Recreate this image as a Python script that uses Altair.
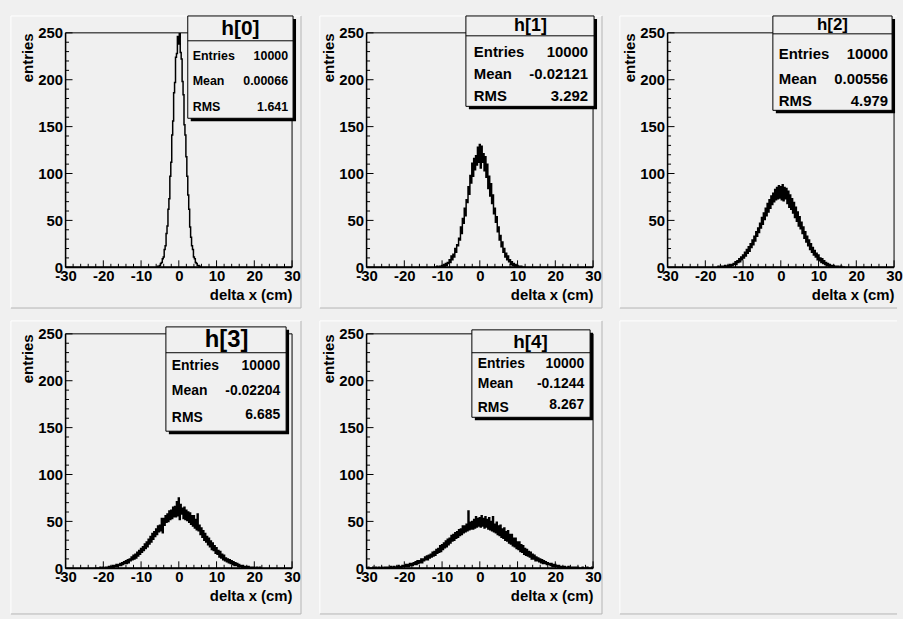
import altair as alt
import pandas as pd

FONT = "Liberation Sans"
BG = "#f0f0f0"
CANVAS_W, CANVAS_H = 903, 619

# ---------------------------------------------------------------- data
BIN_WIDTH = 0.25
X_RANGE = [-30, 30]
Y_RANGE = [0, 250]
X_MAJOR = [-30, -20, -10, 0, 10, 20, 30]
Y_MAJOR = [0, 50, 100, 150, 200, 250]

NAMES = ["h[0]", "h[1]", "h[2]", "h[3]", "h[4]"]
ENTRIES = ["10000", "10000", "10000", "10000", "10000"]
MEANS = ["0.00066", "-0.02121", "0.00556", "-0.02204", "-0.1244"]
RMS = ["1.641", "3.292", "4.979", "6.685", "8.267"]

# first bin centre of every histogram, followed by the bin contents
H_STARTS = [-6.0, -12.0, -17.0, -22.0, -30.0]

H0 = [0, 0, 1, 1, 2, 4, 5, 9, 11, 19, 23, 36, 44, 62, 73, 97, 112, 141, 156, 186,
      197, 224, 228, 246, 238, 249, 229, 222, 198, 184, 152, 141, 118, 97, 77, 62,
      43, 32, 23, 19, 11, 9, 5, 4, 2, 2, 1, 0, 0]

H1 = [0, 0, 0, 1, 0, 0, 1, 0, 2, 1, 3, 0, 4, 2, 5, 4, 8, 5, 12, 8,
      14, 11, 20, 16, 24, 23, 31, 29, 43, 36, 52, 47, 63, 55, 72, 69, 86, 78, 98, 90,
      111, 97, 116, 104, 119, 109, 128, 112, 131, 106, 129, 112, 121, 103, 118,
      96, 110, 84, 97, 76, 89, 68, 77, 57, 63, 48, 54, 38, 43, 29,
      34, 22, 27, 16, 20, 11, 15, 8, 12, 6, 8, 3, 6, 2, 4, 1, 3, 1, 2, 0,
      1, 0, 1, 0, 0, 0, 0]

H2 = [0, 0, 1, 0, 0, 1, 0, 1, 0, 2, 1, 1, 2, 1, 3, 1, 3, 2, 4, 3,
      6, 3, 7, 5, 9, 6, 11, 8, 13, 10, 16, 12, 19, 15, 22, 17, 25, 21, 29, 24,
      33, 28, 38, 33, 42, 37, 47, 42, 53, 46, 58, 51, 63, 55, 68, 59, 72, 63, 76, 67,
      79, 70, 83, 72, 85, 73, 87, 74, 86, 72, 88, 71, 85, 73, 84, 68, 81, 64, 77, 62,
      73, 58, 69, 53, 64, 49, 59, 44, 54, 41, 48, 36, 43, 31, 38, 27, 33, 23, 29, 19,
      25, 16, 21, 13, 18, 11, 15, 8, 13, 7, 10, 5, 9, 4, 7, 3, 5, 2, 4, 1,
      3, 1, 2, 1, 2, 0, 1, 1, 0, 1, 0, 0, 1, 0, 0, 0, 0]

H3 = [0, 0, 0, 0, 0, 1, 0, 0, 1, 0, 0, 1, 1, 0, 2, 1, 2, 1, 3, 1,
      3, 2, 4, 2, 4, 3, 5, 3, 6, 4, 7, 5, 8, 5, 9, 6, 10, 8, 12, 9,
      14, 10, 15, 11, 17, 13, 19, 15, 21, 17, 23, 19, 26, 21, 28, 23, 31, 26, 34, 28,
      37, 31, 39, 34, 42, 36, 45, 39, 46, 40, 53, 38, 53, 46, 56, 49, 58, 50, 61, 52,
      62, 53, 65, 55, 66, 55, 71, 56, 75, 52, 68, 58, 64, 53, 65, 52, 62, 51, 60, 49,
      59, 47, 56, 45, 56, 43, 52, 41, 58, 40, 46, 36, 43, 33, 40, 30, 37, 28, 34, 25,
      32, 23, 29, 20, 27, 19, 24, 16, 22, 15, 19, 12, 18, 11, 15, 9, 14, 8, 11, 7,
      10, 6, 9, 5, 8, 4, 7, 3, 6, 3, 5, 2, 4, 2, 3, 1, 3, 1, 2, 1,
      2, 0, 2, 1, 1, 0, 1, 0, 1, 0, 0, 1, 0, 0, 1, 0, 0]

H4 = [0, 0, 1, 0, 0, 0, 0, 1, 0, 0, 1, 0, 0, 1, 0, 0, 1, 0, 0, 1,
      0, 1, 0, 1, 1, 0, 2, 0, 1, 2, 0, 1, 2, 1, 3, 1, 2, 1, 3, 2,
      3, 2, 4, 2, 4, 2, 5, 3, 5, 3, 6, 4, 7, 4, 8, 5, 8, 6, 10, 6,
      10, 8, 12, 9, 13, 9, 14, 11, 15, 12, 17, 13, 18, 14, 20, 16, 21, 17, 24, 18,
      25, 20, 27, 22, 29, 23, 31, 25, 32, 27, 35, 29, 36, 30, 38, 32, 39, 33, 41, 35,
      42, 36, 45, 38, 45, 39, 47, 40, 61, 41, 49, 42, 50, 42, 52, 43, 55, 44, 53, 45,
      54, 44, 56, 45, 53, 43, 55, 44, 52, 42, 54, 41, 50, 40, 55, 39, 47, 38, 49, 36,
      45, 35, 46, 33, 42, 32, 43, 30, 39, 29, 40, 27, 36, 26, 36, 24, 32, 23, 32, 21,
      28, 20, 28, 18, 25, 17, 24, 15, 21, 14, 20, 13, 18, 12, 17, 10, 15, 10, 14, 8,
      12, 8, 11, 7, 10, 6, 9, 5, 8, 5, 7, 4, 6, 4, 5, 3, 5, 2, 4, 2,
      4, 2, 3, 1, 3, 1, 2, 1, 2, 1, 2, 0, 1, 1, 2, 0, 1, 0, 1, 1,
      0, 1, 0, 1, 1, 0, 0, 0, 0, 1, 0, 0, 0, 0, 1, 0, 0, 0, 0, 1, 0]

HISTS = [H0, H1, H2, H3, H4]

# ---------------------------------------------------------------- layout
W, H = 228, 236               # frame (plot area) of every pad
COL_GAP, ROW_GAP = 75, 67
LEFT0, TOP0 = 65, 30          # frame origin of the first pad

# pad outlines on the canvas: left, top, right, bottom
PADS = [(10, 13, 302, 307), (321, 13, 605, 307), (623, 13, 902, 307),
        (10, 320, 302, 615), (321, 320, 605, 615), (623, 320, 902, 615)]

# statistics boxes on the canvas
STAT_BOXES = [
    dict(box=(188, 13, 294, 116), div=38, title=(241, 26, 21), size=12.5,
         lx=193, vx=289, ly=(53, 79, 105), vy=(53, 79, 105)),
    dict(box=(468, 13, 597, 104), div=33, title=(533, 23, 18), size=15,
         lx=476, vx=591, ly=(49, 71, 94), vy=(49, 71, 94)),
    dict(box=(777, 13, 897, 108), div=31, title=(837, 22, 17), size=15,
         lx=783, vx=893, ly=(51, 76, 99), vy=(51, 76, 99)),
    dict(box=(166, 326, 287, 431), div=352, title=(227, 339, 24), size=14,
         lx=172, vx=281, ly=(365, 391, 418), vy=(365, 391, 415)),
    dict(box=(474, 329, 593, 417), div=352, title=(533, 341, 19), size=14,
         lx=480, vx=587, ly=(363, 384, 408), vy=(363, 384, 405)),
]

ONE = pd.DataFrame({"k": [0]})


def origin(i):
    return LEFT0 + (i % 3) * (W + COL_GAP), TOP0 + (i // 3) * (H + ROW_GAP)


def px_rule(x1, y1, x2, y2, color, width=1.0):
    return alt.Chart(ONE).mark_rule(color=color, strokeWidth=width).encode(
        x=alt.value(x1), y=alt.value(y1), x2=alt.value(x2), y2=alt.value(y2))


def px_rect(x1, y1, x2, y2, **style):
    return alt.Chart(ONE).mark_rect(**style).encode(
        x=alt.value(x1), y=alt.value(y1), x2=alt.value(x2), y2=alt.value(y2))


def px_text(x, y, text, size, align="left"):
    return alt.Chart(ONE).mark_text(
        text=text, font=FONT, fontWeight="bold", fontSize=size, align=align,
        baseline="middle", color="black").encode(x=alt.value(x), y=alt.value(y))


def pad_outline(i):
    ox, oy = origin(i)
    l, t, r, b = PADS[i]
    l, t, r, b = l - ox, t - oy, r - ox, b - oy
    layers = [
        px_rule(l, t, r, t, "#ffffff"),
        px_rule(l, t, l, b, "#ffffff"),
        px_rule(l, b, r, b, "#b4b4b4"),
    ]
    if PADS[i][2] < 900:
        layers.append(px_rule(r, t, r, b, "#b4b4b4"))
    return layers


xs = alt.Scale(domain=X_RANGE, nice=False, zero=False)
ys = alt.Scale(domain=Y_RANGE, nice=False)

axis_style = dict(
    labelFont=FONT, labelFontSize=15, labelFontWeight="bold", labelColor="black",
    titleFont=FONT, titleFontSize=15, titleFontWeight="bold", titleColor="black",
    ticks=False, domain=False, grid=False, labelOverlap=False, labelFlush=False,
    zindex=1, labelExpr="'' + datum.value")

x_axis = alt.Axis(values=X_MAJOR, title="delta x (cm)", labelPadding=1,
                  titleX=W, titleY=27, titleAlign="right", titleBaseline="middle",
                  **axis_style)
y_axis = alt.Axis(values=Y_MAJOR, title="entries", labelPadding=3, titleAngle=-90,
                  titleX=-38, titleY=0, titleAlign="right", titleBaseline="middle",
                  **axis_style)

X_MINOR = [v for v in range(-30, 31, 2) if v % 10 != 0]
Y_MINOR = [v for v in range(0, 251, 10) if v % 50 != 0]


def hist_panel(i):
    ox, oy = origin(i)
    layers = []
    if i == 0:
        # canvas background
        layers.append(px_rect(-ox, -oy, CANVAS_W - ox, CANVAS_H - oy, fill=BG))
    layers += pad_outline(i)

    counts = HISTS[i]
    df = pd.DataFrame({
        "x": [round(H_STARTS[i] + k * BIN_WIDTH, 4) for k in range(len(counts))],
        "n": counts,
    })
    layers.append(
        alt.Chart(df).mark_line(interpolate="step", color="black", strokeWidth=1.5)
        .encode(x=alt.X("x:Q", scale=xs, axis=x_axis),
                y=alt.Y("n:Q", scale=ys, axis=y_axis)))

    # inward tick marks on the bottom and left axes
    for vals, length in ((X_MAJOR, 7), (X_MINOR, 3.5)):
        layers.append(
            alt.Chart(pd.DataFrame({"x": vals})).mark_rule(color="black", strokeWidth=1)
            .encode(x=alt.X("x:Q", scale=xs, axis=x_axis),
                    y=alt.value(H), y2=alt.value(H - length)))
    for vals, length in ((Y_MAJOR, 7), (Y_MINOR, 3.5)):
        layers.append(
            alt.Chart(pd.DataFrame({"n": vals})).mark_rule(color="black", strokeWidth=1)
            .encode(y=alt.Y("n:Q", scale=ys, axis=y_axis),
                    x=alt.value(0), x2=alt.value(length)))

    # frame
    layers.append(px_rect(0, 0, W, H, fillOpacity=0, stroke="black", strokeWidth=1))
    layers.append(px_rule(0, H, W, H, "black", 2))
    layers.append(px_rule(0, 0, 0, H, "black", 1.5))

    # statistics box
    sb = STAT_BOXES[i]
    x1, y1, x2, y2 = sb["box"]
    x1, y1, x2, y2 = x1 - ox, y1 - oy, x2 - ox, y2 - oy
    layers.append(px_rect(x1 + 3, y1 + 3, x2 + 3, y2 + 3, fill="black"))
    layers.append(px_rect(x1, y1, x2, y2, fill=BG, stroke="black", strokeWidth=1))
    layers.append(px_rule(x1, sb["div"] - oy, x2, sb["div"] - oy, "black", 1))
    tx, ty, tsize = sb["title"]
    layers.append(px_text(tx - ox, ty - oy, NAMES[i], tsize, align="center"))
    labels = ["Entries", "Mean", "RMS"]
    values = [ENTRIES[i], MEANS[i], RMS[i]]
    for lab, val, ly, vy in zip(labels, values, sb["ly"], sb["vy"]):
        layers.append(px_text(sb["lx"] - ox, ly - oy, lab, sb["size"]))
        layers.append(px_text(sb["vx"] - ox, vy - oy, val, sb["size"], align="right"))

    return alt.layer(*layers).properties(width=W, height=H)


def empty_panel(i):
    return alt.layer(*pad_outline(i)).properties(width=W, height=H)


panels = [hist_panel(i) for i in range(5)] + [empty_panel(5)]

chart = (
    alt.concat(*panels, columns=3, spacing={"row": ROW_GAP, "column": COL_GAP},
               bounds="flush")
    .properties(padding=0, background=BG)
    .configure_view(stroke="transparent")
)

chart.save("out.html", embed_options={"renderer": "svg", "actions": False})
